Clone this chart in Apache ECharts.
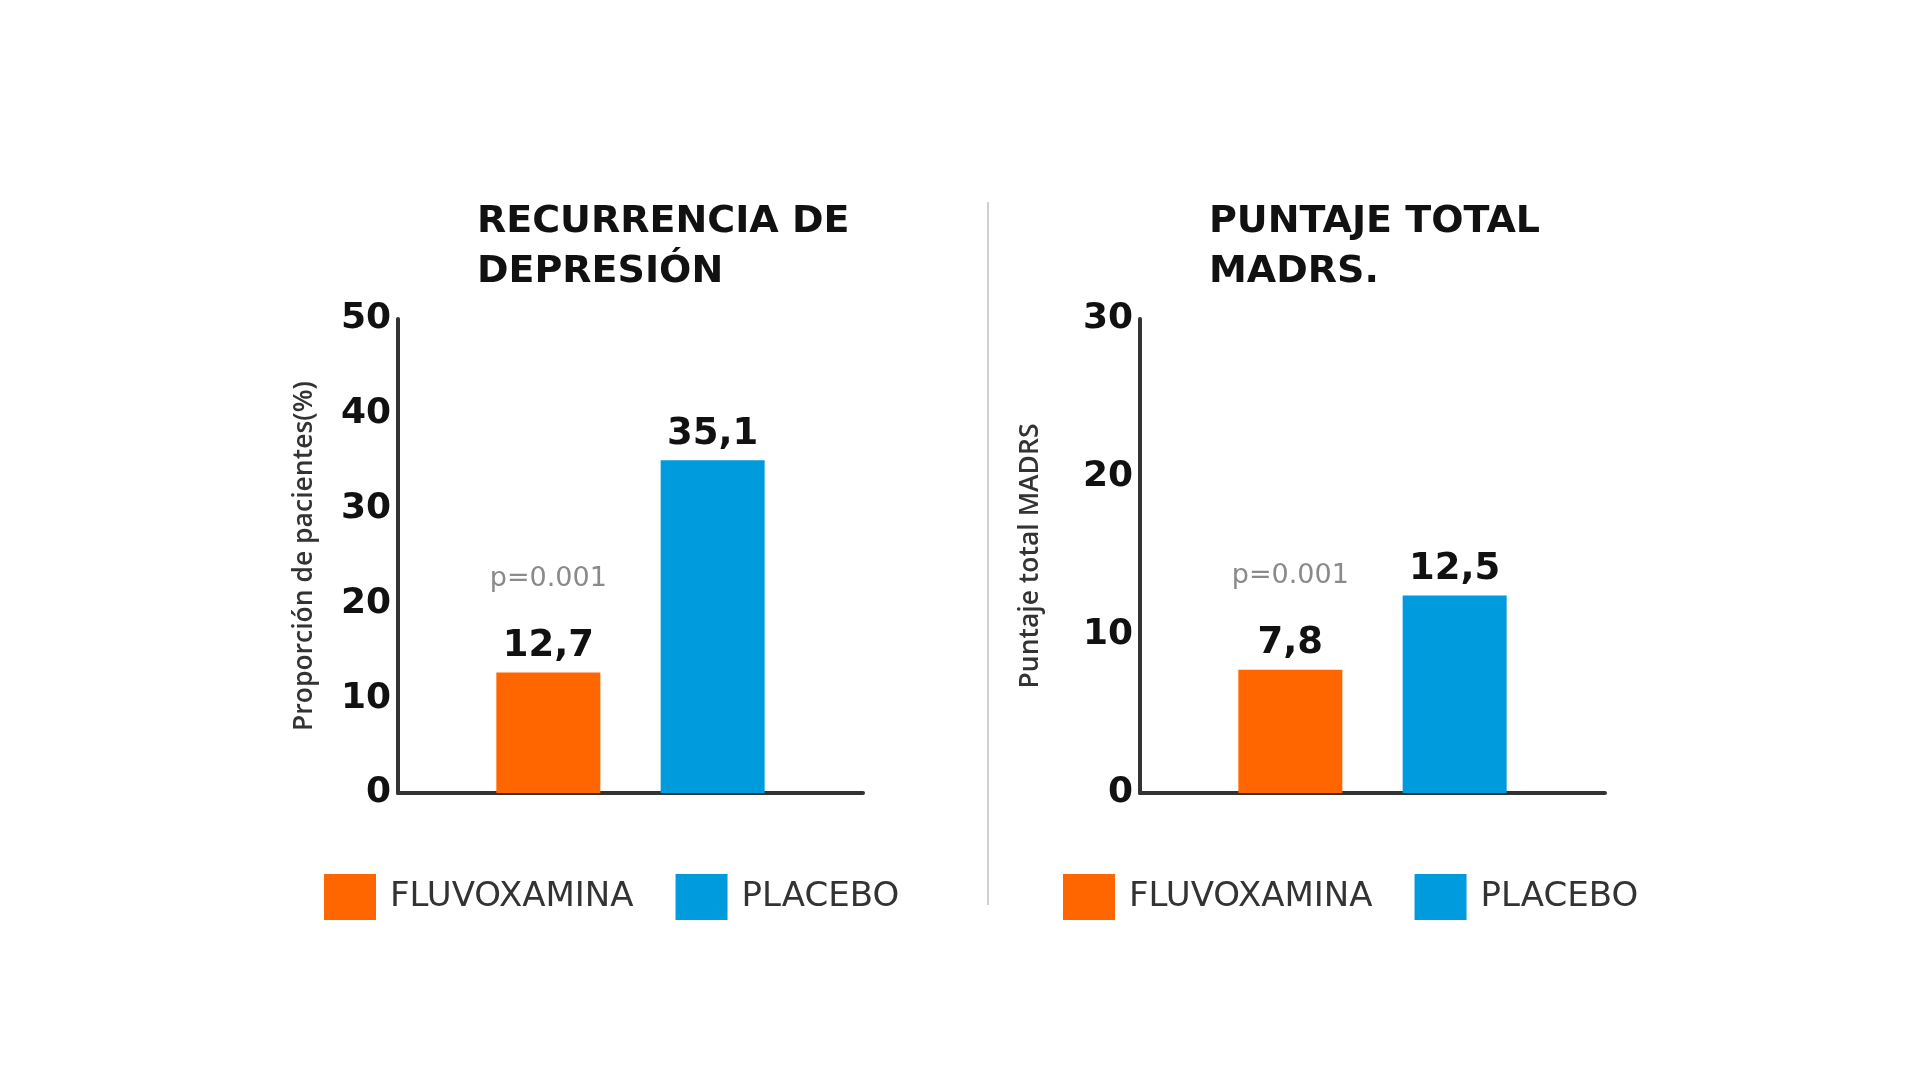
<!DOCTYPE html>
<html>
<head>
  <meta charset="utf-8">
  <title>Fluvoxamina vs Placebo</title>
  <script src="https://cdn.jsdelivr.net/npm/echarts@6.0.0/dist/echarts.min.js"></script>
  <style>
    html, body { margin: 0; padding: 0; background: #fff; }
  </style>
</head>
<body>
  <div id="chart" style="width: 1920px; height: 1080px;"></div>

  <script>
    // datos
    const seriesNames = ['FLUVOXAMINA', 'PLACEBO'];
    const recurrencia = [12.7, 35.1];   // % de pacientes
    const madrs = [7.8, 12.5];          // puntaje total MADRS
    const pValue = 'p=0.001';
    const colors = ['#ff6600', '#009bdd'];

    const chart = echarts.init(document.getElementById('chart'));

    const wide = 'DejaVu Sans';
    const fmt = v => String(v).replace('.', ',');

    // etiqueta de la barra, con el valor p encima de la barra naranja
    function barLabel(withP) {
      return {
        show: true,
        position: 'top',
        distance: 4,
        formatter: function (p) {
          const v = '{v|' + fmt(p.value) + '}';
          return withP ? '{p|' + pValue + '}\n' + v : v;
        },
        rich: {
          v: { fontFamily: wide, fontWeight: 'bold', fontSize: 37, color: '#111', lineHeight: 44 },
          p: { fontFamily: wide, fontSize: 27, color: '#8a8a8a', lineHeight: 30, padding: [0, 0, 61, 0] }
        }
      };
    }

    function yAxis(idx, max, interval, name, gap) {
      return {
        type: 'value', gridIndex: idx, min: 0, max: max, interval: interval,
        name: name, nameLocation: 'middle', nameGap: gap, nameRotate: 90,
        nameTextStyle: { fontFamily: 'Open Sans', fontWeight: 600, fontSize: 26.5, color: '#333' },
        axisLine: { show: true, lineStyle: { color: '#333', width: 4 } },
        axisTick: { show: false },
        splitLine: { show: false },
        axisLabel: { fontFamily: wide, fontWeight: 'bold', fontSize: 36, color: '#111', margin: 7 }
      };
    }

    function xAxis(idx) {
      return {
        type: 'category', gridIndex: idx, data: [''],
        axisLine: { lineStyle: { color: '#333', width: 4 } },
        axisTick: { show: false },
        axisLabel: { show: false }
      };
    }

    function legend(left) {
      return {
        left: left, top: 869,
        data: seriesNames,
        icon: 'rect',
        itemWidth: 52, itemHeight: 46,
        itemGap: 42,
        textStyle: { fontFamily: wide, fontSize: 34, color: '#333', padding: [0, 0, 0, 9] }
      };
    }

    function titleText(text, left) {
      return {
        text: text, left: left, top: 192,
        textStyle: { fontFamily: wide, fontWeight: 'bold', fontSize: 38, color: '#111', lineHeight: 50 }
      };
    }

    const series = [];
    [recurrencia, madrs].forEach(function (vals, g) {
      seriesNames.forEach(function (name, i) {
        series.push({
          type: 'bar', name: name,
          xAxisIndex: g, yAxisIndex: g,
          barWidth: 104, barGap: '58%',
          itemStyle: { color: colors[i] },
          label: barLabel(i === 0),
          data: [vals[i]]
        });
      });
    });

    chart.setOption({
      animation: false,
      color: colors,
      title: [
        titleText('RECURRENCIA DE\nDEPRESIÓN', 472),
        titleText('PUNTAJE TOTAL\nMADRS.', 1204)
      ],
      legend: [legend(319), legend(1058)],
      grid: [
        { left: 398, top: 319, width: 465, height: 474 },
        { left: 1140, top: 319, width: 465, height: 474 }
      ],
      xAxis: [xAxis(0), xAxis(1)],
      yAxis: [
        yAxis(0, 50, 10, 'Proporción de pacientes(%)', 80),
        yAxis(1, 30, 10, 'Puntaje total MADRS', 96)
      ],
      graphic: [{
        type: 'line',
        shape: { x1: 988, y1: 202, x2: 988, y2: 905 },
        style: { stroke: '#d0d0d0', lineWidth: 2 }
      }],
      series: series
    });
  </script>
</body>
</html>
